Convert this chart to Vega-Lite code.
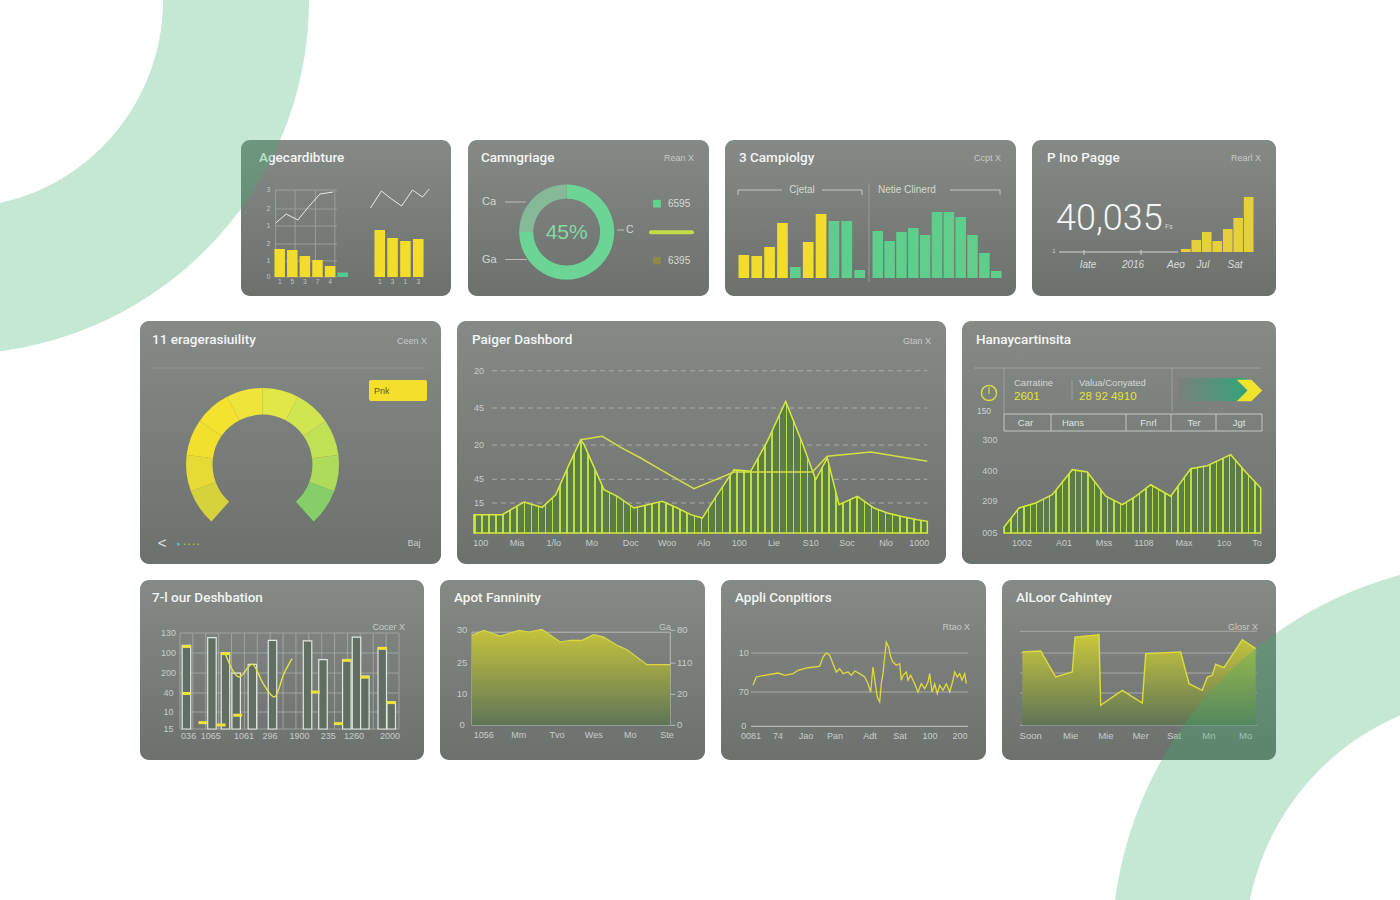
{
"$schema":"https://vega.github.io/schema/vega-lite/v6.json",
"width":1400,"height":900,"padding":0,"autosize":{"type":"none"},"background":"#ffffff",
"config":{"view":{"stroke":null},"axis":{"disable":true},"legend":{"disable":true}},
"resolve":{"scale":{"x":"independent","y":"independent","color":"independent","theta":"independent"}},
"layer":[
{"data":{"values":[{"panel":"Agecardibture"}]},"layer":[
 {"mark":{"type":"rect","cornerRadius":9,"fill":{"gradient":"linear","x1":0,"y1":0,"x2":0,"y2":1,"stops":[{"offset":0,"color":"#858a87"},{"offset":1,"color":"#6c716e"}]}},"encoding":{"x":{"datum":0,"type":"quantitative","scale":{"domain":[0,210],"range":[241,451],"nice":false,"zero":false}},"x2":{"datum":210},"y":{"datum":0,"type":"quantitative","scale":{"domain":[0,156],"range":[140,296],"nice":false,"zero":false}},"y2":{"datum":156}}},
 {"mark":{"type":"text","align":"left","baseline":"middle","font":"Roboto","fontWeight":500,"fontSize":13.5,"fill":"#f3f5f3"},"encoding":{"text":{"field":"panel"},"x":{"datum":18},"y":{"datum":17.5}}}
]},
{"layer":[
 {"data":{"values":[{"g":0,"lab":"0"},{"g":16,"lab":"1"},{"g":33,"lab":"2"},{"g":51,"lab":"1"},{"g":68,"lab":"2"},{"g":87,"lab":"3"}]},"layer":[
  {"mark":{"type":"rule","stroke":"#a2a6a3","strokeWidth":0.8},"encoding":{"x":{"datum":-0.35,"type":"quantitative","scale":{"domain":[-0.5,5.5],"range":[268.4,354],"nice":false,"zero":false}},"x2":{"datum":4.55},"y":{"field":"g","type":"quantitative","scale":{"domain":[0,100],"range":[277,177],"nice":false,"zero":false}}}},
  {"mark":{"type":"text","align":"center","baseline":"middle","font":"Liberation Sans","fontSize":7,"fill":"#c2c6c3"},"encoding":{"text":{"field":"lab"},"x":{"datum":-0.9},"y":{"field":"g","type":"quantitative"}}}
 ]},
 {"data":{"values":[{"t":-0.32},{"t":1.22},{"t":2.84},{"t":4.38}]},"mark":{"type":"rule","stroke":"#a2a6a3","strokeWidth":0.8},"encoding":{"x":{"field":"t","type":"quantitative"},"y":{"datum":0},"y2":{"datum":87}}},
 {"data":{"values":[{"t":-0.32,"v":54},{"t":0.52,"v":63},{"t":1.44,"v":57},{"t":2.28,"v":70},{"t":3.19,"v":83},{"t":4.24,"v":85}]},"mark":{"type":"line","stroke":"#e8ebe8","strokeWidth":1},"encoding":{"x":{"field":"t","type":"quantitative"},"y":{"field":"v","type":"quantitative"}}},
 {"data":{"values":[{"i":0,"v":28,"kind":"main","lab":"1"},{"i":1,"v":27,"kind":"main","lab":"5"},{"i":2,"v":21,"kind":"main","lab":"3"},{"i":3,"v":17,"kind":"main","lab":"7"},{"i":4,"v":11,"kind":"main","lab":"4"},{"i":5,"v":4.5,"kind":"extra","lab":""}]},"layer":[
  {"mark":{"type":"bar","width":10.5},"encoding":{"x":{"field":"i","type":"quantitative"},"y":{"field":"v","type":"quantitative"},"y2":{"datum":0},"color":{"field":"kind","type":"nominal","scale":{"domain":["main","extra"],"range":["#f2dd2b","#52c98f"]},"legend":null}}},
  {"mark":{"type":"text","align":"center","baseline":"middle","font":"Liberation Sans","fontSize":6.5,"fill":"#c2c6c3"},"encoding":{"text":{"field":"lab"},"x":{"field":"i","type":"quantitative"},"y":{"datum":-5}}}
 ]}
]},
{"layer":[
 {"data":{"values":[{"t":-0.72,"v":69},{"t":0.13,"v":86},{"t":0.92,"v":78},{"t":1.7,"v":71},{"t":2.55,"v":87},{"t":3.33,"v":80},{"t":3.85,"v":88}]},"mark":{"type":"line","stroke":"#e8ebe8","strokeWidth":1},"encoding":{"x":{"field":"t","type":"quantitative","scale":{"domain":[-0.5,3.5],"range":[368.3,429.7],"nice":false,"zero":false}},"y":{"field":"v","type":"quantitative","scale":{"domain":[0,100],"range":[277,177],"nice":false,"zero":false}}}},
 {"data":{"values":[{"i":0,"v":47,"lab":"1"},{"i":1,"v":39,"lab":"3"},{"i":2,"v":36,"lab":"1"},{"i":3,"v":38,"lab":"3"}]},"layer":[
  {"mark":{"type":"bar","width":10.5,"fill":"#f2dd2b"},"encoding":{"x":{"field":"i","type":"quantitative"},"y":{"field":"v","type":"quantitative"},"y2":{"datum":0}}},
  {"mark":{"type":"text","align":"center","baseline":"middle","font":"Liberation Sans","fontSize":6.5,"fill":"#c2c6c3"},"encoding":{"text":{"field":"lab"},"x":{"field":"i","type":"quantitative"},"y":{"datum":-5}}}
 ]}
]},
{"data":{"values":[{"panel":"Camngriage"}]},"layer":[
 {"mark":{"type":"rect","cornerRadius":9,"fill":{"gradient":"linear","x1":0,"y1":0,"x2":0,"y2":1,"stops":[{"offset":0,"color":"#858a87"},{"offset":1,"color":"#6c716e"}]}},"encoding":{"x":{"datum":0,"type":"quantitative","scale":{"domain":[0,241],"range":[468,709],"nice":false,"zero":false}},"x2":{"datum":241},"y":{"datum":0,"type":"quantitative","scale":{"domain":[0,156],"range":[140,296],"nice":false,"zero":false}},"y2":{"datum":156}}},
 {"mark":{"type":"text","align":"left","baseline":"middle","font":"Roboto","fontWeight":500,"fontSize":13.5,"fill":"#f3f5f3"},"encoding":{"text":{"field":"panel"},"x":{"datum":13},"y":{"datum":17.5}}},
 {"mark":{"type":"text","text":"Rean X","align":"right","baseline":"middle","font":"Liberation Sans","fontSize":9,"fill":"#c6cac7"},"encoding":{"x":{"datum":226},"y":{"datum":17.5}}},
 {"data":{"values":[{"part":"done","share":75,"idx":1},{"part":"rest","share":25,"idx":2}]},"mark":{"type":"arc","radius":47.5,"radius2":33.5},"encoding":{"theta":{"field":"share","type":"quantitative","stack":true},"order":{"field":"idx","type":"quantitative"},"color":{"field":"part","type":"nominal","scale":{"domain":["done","rest"],"range":["#6cd595","#86b997"]},"legend":null},"x":{"datum":98.7},"y":{"datum":92}}},
 {"mark":{"type":"text","text":"45%","align":"center","baseline":"middle","font":"Liberation Sans","fontSize":21,"fill":"#82daa4"},"encoding":{"x":{"datum":98.7},"y":{"datum":93}}},
 {"mark":{"type":"text","text":"Ca","align":"left","baseline":"middle","font":"Liberation Sans","fontSize":11,"fill":"#d3d6d3"},"encoding":{"x":{"datum":14},"y":{"datum":62}}},
 {"mark":{"type":"text","text":"Ga","align":"left","baseline":"middle","font":"Liberation Sans","fontSize":11,"fill":"#d3d6d3"},"encoding":{"x":{"datum":14},"y":{"datum":119.5}}},
 {"mark":{"type":"rule","stroke":"#b9bdba","strokeWidth":1},"encoding":{"x":{"datum":37},"x2":{"datum":58},"y":{"datum":62}}},
 {"mark":{"type":"rule","stroke":"#b9bdba","strokeWidth":1},"encoding":{"x":{"datum":37},"x2":{"datum":59},"y":{"datum":119.5}}},
 {"mark":{"type":"rule","stroke":"#b9bdba","strokeWidth":1},"encoding":{"x":{"datum":149},"x2":{"datum":156},"y":{"datum":90}}},
 {"mark":{"type":"text","text":"C","align":"left","baseline":"middle","font":"Liberation Sans","fontSize":10.5,"fill":"#d3d6d3"},"encoding":{"x":{"datum":158},"y":{"datum":90}}},
 {"mark":{"type":"square","size":60,"color":"#63d28f","opacity":1},"encoding":{"x":{"datum":189},"y":{"datum":63.7}}},
 {"mark":{"type":"text","text":"6595","align":"left","baseline":"middle","font":"Liberation Sans","fontSize":10,"fill":"#d7dad7"},"encoding":{"x":{"datum":200},"y":{"datum":64}}},
 {"mark":{"type":"rule","stroke":"#c3dd48","strokeWidth":4,"strokeCap":"round"},"encoding":{"x":{"datum":183},"x2":{"datum":224},"y":{"datum":92.3}}},
 {"mark":{"type":"square","size":55,"color":"#8f8b44","opacity":1},"encoding":{"x":{"datum":189},"y":{"datum":120.5}}},
 {"mark":{"type":"text","text":"6395","align":"left","baseline":"middle","font":"Liberation Sans","fontSize":10,"fill":"#d7dad7"},"encoding":{"x":{"datum":200},"y":{"datum":120.5}}}
]},
{"data":{"values":[{"panel":"3 Campiolgy"}]},"layer":[
 {"mark":{"type":"rect","cornerRadius":9,"fill":{"gradient":"linear","x1":0,"y1":0,"x2":0,"y2":1,"stops":[{"offset":0,"color":"#858a87"},{"offset":1,"color":"#6c716e"}]}},"encoding":{"x":{"datum":0,"type":"quantitative","scale":{"domain":[0,291],"range":[725,1016],"nice":false,"zero":false}},"x2":{"datum":291},"y":{"datum":0,"type":"quantitative","scale":{"domain":[0,156],"range":[140,296],"nice":false,"zero":false}},"y2":{"datum":156}}},
 {"mark":{"type":"text","align":"left","baseline":"middle","font":"Roboto","fontWeight":500,"fontSize":13.5,"fill":"#f3f5f3"},"encoding":{"text":{"field":"panel"},"x":{"datum":14},"y":{"datum":17.5}}},
 {"mark":{"type":"text","text":"Ccpt X","align":"right","baseline":"middle","font":"Liberation Sans","fontSize":9,"fill":"#c6cac7"},"encoding":{"x":{"datum":276},"y":{"datum":17.5}}},
 {"mark":{"type":"rule","stroke":"#c0c4c1","strokeWidth":1},"encoding":{"x":{"datum":13},"x2":{"datum":57},"y":{"datum":50}}},
 {"mark":{"type":"rule","stroke":"#c0c4c1","strokeWidth":1},"encoding":{"x":{"datum":97},"x2":{"datum":137},"y":{"datum":50}}},
 {"mark":{"type":"rule","stroke":"#c0c4c1","strokeWidth":1},"encoding":{"x":{"datum":13},"y":{"datum":50},"y2":{"datum":55}}},
 {"mark":{"type":"rule","stroke":"#c0c4c1","strokeWidth":1},"encoding":{"x":{"datum":137},"y":{"datum":50},"y2":{"datum":55}}},
 {"mark":{"type":"rule","stroke":"#c0c4c1","strokeWidth":1},"encoding":{"x":{"datum":225},"x2":{"datum":275},"y":{"datum":50}}},
 {"mark":{"type":"rule","stroke":"#c0c4c1","strokeWidth":1},"encoding":{"x":{"datum":275},"y":{"datum":50},"y2":{"datum":55}}},
 {"mark":{"type":"rule","stroke":"#979b98","strokeWidth":1},"encoding":{"x":{"datum":144},"y":{"datum":43},"y2":{"datum":142}}},
 {"mark":{"type":"text","text":"Cjetal","align":"center","baseline":"middle","font":"Liberation Sans","fontSize":10,"fill":"#d5d8d5"},"encoding":{"x":{"datum":77},"y":{"datum":50}}},
 {"mark":{"type":"text","text":"Netie Clinerd","align":"left","baseline":"middle","font":"Liberation Sans","fontSize":10,"fill":"#d5d8d5"},"encoding":{"x":{"datum":153},"y":{"datum":50}}}
]},
{"data":{"values":[{"b":"L01","v":23,"grp":"a"},{"b":"L02","v":22,"grp":"a"},{"b":"L03","v":31,"grp":"a"},{"b":"L04","v":55,"grp":"a"},{"b":"L05","v":11,"grp":"b"},{"b":"L06","v":36,"grp":"a"},{"b":"L07","v":64,"grp":"a"},{"b":"L08","v":57,"grp":"b"},{"b":"L09","v":57,"grp":"b"},{"b":"L10","v":8,"grp":"b"}]},
 "mark":{"type":"bar"},
 "encoding":{"x":{"field":"b","type":"nominal","scale":{"type":"band","range":[738.5,865],"paddingInner":0.17,"paddingOuter":0}},"y":{"field":"v","type":"quantitative","scale":{"domain":[0,100],"range":[278,178],"nice":false,"zero":false}},"y2":{"datum":0},"color":{"field":"grp","type":"nominal","scale":{"domain":["a","b"],"range":["#f2dc2c","#5fcd8c"]},"legend":null}}},
{"data":{"values":[{"b":"R01","v":47},{"b":"R02","v":37},{"b":"R03","v":46},{"b":"R04","v":50},{"b":"R05","v":43},{"b":"R06","v":66},{"b":"R07","v":66},{"b":"R08","v":61},{"b":"R09","v":43},{"b":"R10","v":25},{"b":"R11","v":7}]},
 "mark":{"type":"bar","fill":"#5fcd8c"},
 "encoding":{"x":{"field":"b","type":"nominal","scale":{"type":"band","range":[872.5,1001.5],"paddingInner":0.11,"paddingOuter":0}},"y":{"field":"v","type":"quantitative","scale":{"domain":[0,100],"range":[278,178],"nice":false,"zero":false}},"y2":{"datum":0}}},
{"data":{"values":[{"panel":"P Ino Pagge"}]},"layer":[
 {"mark":{"type":"rect","cornerRadius":9,"fill":{"gradient":"linear","x1":0,"y1":0,"x2":0,"y2":1,"stops":[{"offset":0,"color":"#858a87"},{"offset":1,"color":"#6c716e"}]}},"encoding":{"x":{"datum":0,"type":"quantitative","scale":{"domain":[0,244],"range":[1032,1276],"nice":false,"zero":false}},"x2":{"datum":244},"y":{"datum":0,"type":"quantitative","scale":{"domain":[0,156],"range":[140,296],"nice":false,"zero":false}},"y2":{"datum":156}}},
 {"mark":{"type":"text","align":"left","baseline":"middle","font":"Roboto","fontWeight":500,"fontSize":13.5,"fill":"#f3f5f3"},"encoding":{"text":{"field":"panel"},"x":{"datum":15},"y":{"datum":17.5}}},
 {"mark":{"type":"text","text":"Rearl X","align":"right","baseline":"middle","font":"Liberation Sans","fontSize":9,"fill":"#c6cac7"},"encoding":{"x":{"datum":229},"y":{"datum":17.5}}},
 {"mark":{"type":"text","text":"40,035","align":"left","baseline":"middle","font":"Roboto","fontWeight":300,"fontSize":36,"fill":"#f4f5f4"},"encoding":{"x":{"datum":24},"y":{"datum":79}}},
 {"mark":{"type":"text","text":"Fs","align":"left","baseline":"middle","font":"Liberation Sans","fontSize":7,"fill":"#d0d3d0"},"encoding":{"x":{"datum":133},"y":{"datum":87}}},
 {"mark":{"type":"rule","stroke":"#d2d5d2","strokeWidth":1},"encoding":{"x":{"datum":27},"x2":{"datum":146},"y":{"datum":112}}},
 {"mark":{"type":"rule","stroke":"#d2d5d2","strokeWidth":1},"encoding":{"x":{"datum":52},"y":{"datum":110},"y2":{"datum":115}}},
 {"mark":{"type":"rule","stroke":"#d2d5d2","strokeWidth":1},"encoding":{"x":{"datum":109},"y":{"datum":110},"y2":{"datum":115}}},
 {"mark":{"type":"text","text":"1","align":"center","baseline":"middle","font":"Liberation Sans","fontSize":6,"fill":"#d0d3d0"},"encoding":{"x":{"datum":22},"y":{"datum":111}}},
 {"mark":{"type":"text","text":"Iate","align":"center","baseline":"middle","font":"Liberation Sans","fontStyle":"italic","fontSize":10,"fill":"#d9dcd9"},"encoding":{"x":{"datum":56},"y":{"datum":125}}},
 {"mark":{"type":"text","text":"2016","align":"center","baseline":"middle","font":"Liberation Sans","fontStyle":"italic","fontSize":10,"fill":"#d9dcd9"},"encoding":{"x":{"datum":101},"y":{"datum":125}}},
 {"mark":{"type":"text","text":"Aeo","align":"center","baseline":"middle","font":"Liberation Sans","fontStyle":"italic","fontSize":10,"fill":"#d9dcd9"},"encoding":{"x":{"datum":144},"y":{"datum":125}}},
 {"mark":{"type":"text","text":"Jul","align":"center","baseline":"middle","font":"Liberation Sans","fontStyle":"italic","fontSize":10,"fill":"#d9dcd9"},"encoding":{"x":{"datum":171},"y":{"datum":125}}},
 {"mark":{"type":"text","text":"Sat","align":"center","baseline":"middle","font":"Liberation Sans","fontStyle":"italic","fontSize":10,"fill":"#d9dcd9"},"encoding":{"x":{"datum":203},"y":{"datum":125}}}
]},
{"data":{"values":[{"b":"m1","v":3},{"b":"m2","v":12},{"b":"m3","v":20},{"b":"m4","v":11},{"b":"m5","v":23},{"b":"m6","v":34},{"b":"m7","v":55}]},
 "mark":{"type":"bar","fill":"#e5cf3a"},
 "encoding":{"x":{"field":"b","type":"nominal","scale":{"type":"band","range":[1181,1253.5],"paddingInner":0.08,"paddingOuter":0}},"y":{"field":"v","type":"quantitative","scale":{"domain":[0,100],"range":[252,152],"nice":false,"zero":false}},"y2":{"datum":0}}},
{"data":{"values":[{"panel":"11 eragerasiuility"}]},"layer":[
 {"mark":{"type":"rect","cornerRadius":9,"fill":{"gradient":"linear","x1":0,"y1":0,"x2":0,"y2":1,"stops":[{"offset":0,"color":"#858a87"},{"offset":1,"color":"#6c716e"}]}},"encoding":{"x":{"datum":0,"type":"quantitative","scale":{"domain":[0,301],"range":[140,441],"nice":false,"zero":false}},"x2":{"datum":301},"y":{"datum":0,"type":"quantitative","scale":{"domain":[0,243],"range":[321,564],"nice":false,"zero":false}},"y2":{"datum":243}}},
 {"mark":{"type":"text","align":"left","baseline":"middle","font":"Roboto","fontWeight":500,"fontSize":13.5,"fill":"#f3f5f3"},"encoding":{"text":{"field":"panel"},"x":{"datum":12},"y":{"datum":19}}},
 {"mark":{"type":"text","text":"Ceen X","align":"right","baseline":"middle","font":"Liberation Sans","fontSize":9,"fill":"#c6cac7"},"encoding":{"x":{"datum":287},"y":{"datum":20}}},
 {"mark":{"type":"rule","stroke":"#8f9390","strokeWidth":1},"encoding":{"x":{"datum":12},"x2":{"datum":286},"y":{"datum":47}}},
 {"mark":{"type":"rect","fill":"#f4df2c","cornerRadius":2},"encoding":{"x":{"datum":229},"x2":{"datum":287},"y":{"datum":59},"y2":{"datum":80}}},
 {"mark":{"type":"text","text":"Pnk","align":"left","baseline":"middle","font":"Liberation Sans","fontSize":9,"fill":"#5b5a2e"},"encoding":{"x":{"datum":234},"y":{"datum":70}}},
 {"data":{"values":[{"seg":"g01","share":1,"idx":1},{"seg":"g02","share":1,"idx":2},{"seg":"g03","share":1,"idx":3},{"seg":"g04","share":1,"idx":4},{"seg":"g05","share":1,"idx":5},{"seg":"g06","share":1,"idx":6},{"seg":"g07","share":1,"idx":7},{"seg":"g08","share":1,"idx":8},{"seg":"g09","share":1,"idx":9},{"seg":"g10","share":1,"idx":10}]},
  "mark":{"type":"arc","radius":76.5,"radius2":50},
  "encoding":{"theta":{"field":"share","type":"quantitative","stack":true,"scale":{"range":[-2.41,2.41]}},"order":{"field":"idx","type":"quantitative"},"color":{"field":"seg","type":"nominal","scale":{"domain":["g01","g02","g03","g04","g05","g06","g07","g08","g09","g10"],"range":["#d6d23c","#e6db34","#f3df2d","#f5e22f","#efe43a","#e1e746","#d0e54f","#c0e156","#afdb5b","#86cf68"]},"legend":null},"x":{"datum":122.5},"y":{"datum":143.5}}},
 {"mark":{"type":"text","text":"<","align":"center","baseline":"middle","font":"Liberation Sans","fontSize":15,"fill":"#e2e5e2"},"encoding":{"x":{"datum":22},"y":{"datum":222}}},
 {"mark":{"type":"text","text":"▸","align":"center","baseline":"middle","font":"DejaVu Sans","fontSize":7,"fill":"#67b9c4"},"encoding":{"x":{"datum":39},"y":{"datum":223}}},
 {"mark":{"type":"text","text":"• • • •","align":"left","baseline":"middle","font":"DejaVu Sans","fontSize":5,"fill":"#cfd84a"},"encoding":{"x":{"datum":43},"y":{"datum":223}}},
 {"mark":{"type":"text","text":"Baj","align":"center","baseline":"middle","font":"Liberation Sans","fontSize":9,"fill":"#c9ccc9"},"encoding":{"x":{"datum":274},"y":{"datum":222}}}
]},
{"data":{"values":[{"panel":"Paiger Dashbord"}]},"layer":[
 {"mark":{"type":"rect","cornerRadius":9,"fill":{"gradient":"linear","x1":0,"y1":0,"x2":0,"y2":1,"stops":[{"offset":0,"color":"#858a87"},{"offset":1,"color":"#6c716e"}]}},"encoding":{"x":{"datum":0,"type":"quantitative","scale":{"domain":[0,489],"range":[457,946],"nice":false,"zero":false}},"x2":{"datum":489},"y":{"datum":0,"type":"quantitative","scale":{"domain":[0,243],"range":[321,564],"nice":false,"zero":false}},"y2":{"datum":243}}},
 {"mark":{"type":"text","align":"left","baseline":"middle","font":"Roboto","fontWeight":500,"fontSize":13.5,"fill":"#f3f5f3"},"encoding":{"text":{"field":"panel"},"x":{"datum":15},"y":{"datum":19}}},
 {"mark":{"type":"text","text":"Gtan X","align":"right","baseline":"middle","font":"Liberation Sans","fontSize":9,"fill":"#c6cac7"},"encoding":{"x":{"datum":474},"y":{"datum":20}}}
]},
{"layer":[
 {"data":{"values":[{"g":18.5,"lab":"15"},{"g":33.1,"lab":"45"},{"g":54.2,"lab":"20"},{"g":77,"lab":"45"},{"g":100,"lab":"20"}]},"layer":[
  {"mark":{"type":"rule","stroke":"#a9ada9","strokeWidth":1,"strokeDash":[5,4]},"encoding":{"x":{"datum":3.97,"type":"quantitative","scale":{"domain":[0,100],"range":[474,927.3],"nice":false,"zero":false}},"x2":{"datum":100},"y":{"field":"g","type":"quantitative","scale":{"domain":[0,100],"range":[533,370.7],"nice":false,"zero":false}}}},
  {"mark":{"type":"text","align":"center","baseline":"middle","font":"Liberation Sans","fontSize":9,"fill":"#c8ccc8"},"encoding":{"text":{"field":"lab"},"x":{"datum":1.1},"y":{"field":"g","type":"quantitative"}}}
 ]},
 {"data":{"values":[{"t":0,"v":11.3},{"t":6.24,"v":11.3},{"t":11.03,"v":19.1},{"t":15.07,"v":15.8},{"t":18.02,"v":23.6},{"t":20.96,"v":42.1},{"t":23.54,"v":57.5},{"t":24.27,"v":54.4},{"t":28.68,"v":26.7},{"t":31.61,"v":22.6},{"t":35.3,"v":15.4},{"t":38.98,"v":17.9},{"t":41.54,"v":19.5},{"t":44.85,"v":15.4},{"t":47.81,"v":11.3},{"t":50.36,"v":9.2},{"t":53.67,"v":23.6},{"t":57.36,"v":39},{"t":61.04,"v":38},{"t":64.7,"v":56.5},{"t":68.76,"v":81.1},{"t":72.42,"v":55.5},{"t":75.38,"v":32.8},{"t":77.94,"v":46.2},{"t":80.52,"v":17.4},{"t":84.56,"v":22.6},{"t":88.24,"v":15.4},{"t":91.18,"v":12.3},{"t":94.13,"v":10.3},{"t":97.79,"v":8.2},{"t":100,"v":7.2}]},
  "mark":{"type":"area","stroke":"#d6ea3c","strokeWidth":1.5,"fill":{"gradient":"linear","x1":0,"y1":0,"x2":1,"y2":0,"stops":[
{"offset":0,"color":"#c2db4b"},{"offset":0.0035,"color":"#c2db4b"},{"offset":0.0035,"color":"#5a7e46"},{"offset":0.015625,"color":"#5a7e46"},
{"offset":0.015625,"color":"#c2db4b"},{"offset":0.019125,"color":"#c2db4b"},{"offset":0.019125,"color":"#5a7e46"},{"offset":0.03125,"color":"#5a7e46"},
{"offset":0.03125,"color":"#c2db4b"},{"offset":0.03475,"color":"#c2db4b"},{"offset":0.03475,"color":"#5a7e46"},{"offset":0.046875,"color":"#5a7e46"},
{"offset":0.046875,"color":"#c2db4b"},{"offset":0.050375,"color":"#c2db4b"},{"offset":0.050375,"color":"#5a7e46"},{"offset":0.0625,"color":"#5a7e46"},
{"offset":0.0625,"color":"#c2db4b"},{"offset":0.066,"color":"#c2db4b"},{"offset":0.066,"color":"#5a7e46"},{"offset":0.078125,"color":"#5a7e46"},
{"offset":0.078125,"color":"#c2db4b"},{"offset":0.081625,"color":"#c2db4b"},{"offset":0.081625,"color":"#5a7e46"},{"offset":0.09375,"color":"#5a7e46"},
{"offset":0.09375,"color":"#c2db4b"},{"offset":0.09725,"color":"#c2db4b"},{"offset":0.09725,"color":"#5a7e46"},{"offset":0.109375,"color":"#5a7e46"},
{"offset":0.109375,"color":"#c2db4b"},{"offset":0.112875,"color":"#c2db4b"},{"offset":0.112875,"color":"#5a7e46"},{"offset":0.125,"color":"#5a7e46"},
{"offset":0.125,"color":"#c2db4b"},{"offset":0.1285,"color":"#c2db4b"},{"offset":0.1285,"color":"#5a7e46"},{"offset":0.140625,"color":"#5a7e46"},
{"offset":0.140625,"color":"#c2db4b"},{"offset":0.144125,"color":"#c2db4b"},{"offset":0.144125,"color":"#5a7e46"},{"offset":0.15625,"color":"#5a7e46"},
{"offset":0.15625,"color":"#c2db4b"},{"offset":0.15975,"color":"#c2db4b"},{"offset":0.15975,"color":"#5a7e46"},{"offset":0.171875,"color":"#5a7e46"},
{"offset":0.171875,"color":"#c2db4b"},{"offset":0.175375,"color":"#c2db4b"},{"offset":0.175375,"color":"#5a7e46"},{"offset":0.1875,"color":"#5a7e46"},
{"offset":0.1875,"color":"#c2db4b"},{"offset":0.191,"color":"#c2db4b"},{"offset":0.191,"color":"#5a7e46"},{"offset":0.203125,"color":"#5a7e46"},
{"offset":0.203125,"color":"#c2db4b"},{"offset":0.206625,"color":"#c2db4b"},{"offset":0.206625,"color":"#5a7e46"},{"offset":0.21875,"color":"#5a7e46"},
{"offset":0.21875,"color":"#c2db4b"},{"offset":0.22225,"color":"#c2db4b"},{"offset":0.22225,"color":"#5a7e46"},{"offset":0.234375,"color":"#5a7e46"},
{"offset":0.234375,"color":"#c2db4b"},{"offset":0.237875,"color":"#c2db4b"},{"offset":0.237875,"color":"#5a7e46"},{"offset":0.25,"color":"#5a7e46"},
{"offset":0.25,"color":"#c2db4b"},{"offset":0.2535,"color":"#c2db4b"},{"offset":0.2535,"color":"#5a7e46"},{"offset":0.265625,"color":"#5a7e46"},
{"offset":0.265625,"color":"#c2db4b"},{"offset":0.269125,"color":"#c2db4b"},{"offset":0.269125,"color":"#5a7e46"},{"offset":0.28125,"color":"#5a7e46"},
{"offset":0.28125,"color":"#c2db4b"},{"offset":0.28475,"color":"#c2db4b"},{"offset":0.28475,"color":"#5a7e46"},{"offset":0.296875,"color":"#5a7e46"},
{"offset":0.296875,"color":"#c2db4b"},{"offset":0.300375,"color":"#c2db4b"},{"offset":0.300375,"color":"#5a7e46"},{"offset":0.3125,"color":"#5a7e46"},
{"offset":0.3125,"color":"#c2db4b"},{"offset":0.316,"color":"#c2db4b"},{"offset":0.316,"color":"#5a7e46"},{"offset":0.328125,"color":"#5a7e46"},
{"offset":0.328125,"color":"#c2db4b"},{"offset":0.331625,"color":"#c2db4b"},{"offset":0.331625,"color":"#5a7e46"},{"offset":0.34375,"color":"#5a7e46"},
{"offset":0.34375,"color":"#c2db4b"},{"offset":0.34725,"color":"#c2db4b"},{"offset":0.34725,"color":"#5a7e46"},{"offset":0.359375,"color":"#5a7e46"},
{"offset":0.359375,"color":"#c2db4b"},{"offset":0.362875,"color":"#c2db4b"},{"offset":0.362875,"color":"#5a7e46"},{"offset":0.375,"color":"#5a7e46"},
{"offset":0.375,"color":"#c2db4b"},{"offset":0.3785,"color":"#c2db4b"},{"offset":0.3785,"color":"#5a7e46"},{"offset":0.390625,"color":"#5a7e46"},
{"offset":0.390625,"color":"#c2db4b"},{"offset":0.394125,"color":"#c2db4b"},{"offset":0.394125,"color":"#5a7e46"},{"offset":0.40625,"color":"#5a7e46"},
{"offset":0.40625,"color":"#c2db4b"},{"offset":0.40975,"color":"#c2db4b"},{"offset":0.40975,"color":"#5a7e46"},{"offset":0.421875,"color":"#5a7e46"},
{"offset":0.421875,"color":"#c2db4b"},{"offset":0.425375,"color":"#c2db4b"},{"offset":0.425375,"color":"#5a7e46"},{"offset":0.4375,"color":"#5a7e46"},
{"offset":0.4375,"color":"#c2db4b"},{"offset":0.441,"color":"#c2db4b"},{"offset":0.441,"color":"#5a7e46"},{"offset":0.453125,"color":"#5a7e46"},
{"offset":0.453125,"color":"#c2db4b"},{"offset":0.456625,"color":"#c2db4b"},{"offset":0.456625,"color":"#5a7e46"},{"offset":0.46875,"color":"#5a7e46"},
{"offset":0.46875,"color":"#c2db4b"},{"offset":0.47225,"color":"#c2db4b"},{"offset":0.47225,"color":"#5a7e46"},{"offset":0.484375,"color":"#5a7e46"},
{"offset":0.484375,"color":"#c2db4b"},{"offset":0.487875,"color":"#c2db4b"},{"offset":0.487875,"color":"#5a7e46"},{"offset":0.5,"color":"#5a7e46"},
{"offset":0.5,"color":"#c2db4b"},{"offset":0.5035,"color":"#c2db4b"},{"offset":0.5035,"color":"#5a7e46"},{"offset":0.515625,"color":"#5a7e46"},
{"offset":0.515625,"color":"#c2db4b"},{"offset":0.519125,"color":"#c2db4b"},{"offset":0.519125,"color":"#5a7e46"},{"offset":0.53125,"color":"#5a7e46"},
{"offset":0.53125,"color":"#c2db4b"},{"offset":0.53475,"color":"#c2db4b"},{"offset":0.53475,"color":"#5a7e46"},{"offset":0.546875,"color":"#5a7e46"},
{"offset":0.546875,"color":"#c2db4b"},{"offset":0.550375,"color":"#c2db4b"},{"offset":0.550375,"color":"#5a7e46"},{"offset":0.5625,"color":"#5a7e46"},
{"offset":0.5625,"color":"#c2db4b"},{"offset":0.566,"color":"#c2db4b"},{"offset":0.566,"color":"#5a7e46"},{"offset":0.578125,"color":"#5a7e46"},
{"offset":0.578125,"color":"#c2db4b"},{"offset":0.581625,"color":"#c2db4b"},{"offset":0.581625,"color":"#5a7e46"},{"offset":0.59375,"color":"#5a7e46"},
{"offset":0.59375,"color":"#c2db4b"},{"offset":0.59725,"color":"#c2db4b"},{"offset":0.59725,"color":"#5a7e46"},{"offset":0.609375,"color":"#5a7e46"},
{"offset":0.609375,"color":"#c2db4b"},{"offset":0.612875,"color":"#c2db4b"},{"offset":0.612875,"color":"#5a7e46"},{"offset":0.625,"color":"#5a7e46"},
{"offset":0.625,"color":"#c2db4b"},{"offset":0.6285,"color":"#c2db4b"},{"offset":0.6285,"color":"#5a7e46"},{"offset":0.640625,"color":"#5a7e46"},
{"offset":0.640625,"color":"#c2db4b"},{"offset":0.644125,"color":"#c2db4b"},{"offset":0.644125,"color":"#5a7e46"},{"offset":0.65625,"color":"#5a7e46"},
{"offset":0.65625,"color":"#c2db4b"},{"offset":0.65975,"color":"#c2db4b"},{"offset":0.65975,"color":"#5a7e46"},{"offset":0.671875,"color":"#5a7e46"},
{"offset":0.671875,"color":"#c2db4b"},{"offset":0.675375,"color":"#c2db4b"},{"offset":0.675375,"color":"#5a7e46"},{"offset":0.6875,"color":"#5a7e46"},
{"offset":0.6875,"color":"#c2db4b"},{"offset":0.691,"color":"#c2db4b"},{"offset":0.691,"color":"#5a7e46"},{"offset":0.703125,"color":"#5a7e46"},
{"offset":0.703125,"color":"#c2db4b"},{"offset":0.706625,"color":"#c2db4b"},{"offset":0.706625,"color":"#5a7e46"},{"offset":0.71875,"color":"#5a7e46"},
{"offset":0.71875,"color":"#c2db4b"},{"offset":0.72225,"color":"#c2db4b"},{"offset":0.72225,"color":"#5a7e46"},{"offset":0.734375,"color":"#5a7e46"},
{"offset":0.734375,"color":"#c2db4b"},{"offset":0.737875,"color":"#c2db4b"},{"offset":0.737875,"color":"#5a7e46"},{"offset":0.75,"color":"#5a7e46"},
{"offset":0.75,"color":"#c2db4b"},{"offset":0.7535,"color":"#c2db4b"},{"offset":0.7535,"color":"#5a7e46"},{"offset":0.765625,"color":"#5a7e46"},
{"offset":0.765625,"color":"#c2db4b"},{"offset":0.769125,"color":"#c2db4b"},{"offset":0.769125,"color":"#5a7e46"},{"offset":0.78125,"color":"#5a7e46"},
{"offset":0.78125,"color":"#c2db4b"},{"offset":0.78475,"color":"#c2db4b"},{"offset":0.78475,"color":"#5a7e46"},{"offset":0.796875,"color":"#5a7e46"},
{"offset":0.796875,"color":"#c2db4b"},{"offset":0.800375,"color":"#c2db4b"},{"offset":0.800375,"color":"#5a7e46"},{"offset":0.8125,"color":"#5a7e46"},
{"offset":0.8125,"color":"#c2db4b"},{"offset":0.816,"color":"#c2db4b"},{"offset":0.816,"color":"#5a7e46"},{"offset":0.828125,"color":"#5a7e46"},
{"offset":0.828125,"color":"#c2db4b"},{"offset":0.831625,"color":"#c2db4b"},{"offset":0.831625,"color":"#5a7e46"},{"offset":0.84375,"color":"#5a7e46"},
{"offset":0.84375,"color":"#c2db4b"},{"offset":0.84725,"color":"#c2db4b"},{"offset":0.84725,"color":"#5a7e46"},{"offset":0.859375,"color":"#5a7e46"},
{"offset":0.859375,"color":"#c2db4b"},{"offset":0.862875,"color":"#c2db4b"},{"offset":0.862875,"color":"#5a7e46"},{"offset":0.875,"color":"#5a7e46"},
{"offset":0.875,"color":"#c2db4b"},{"offset":0.8785,"color":"#c2db4b"},{"offset":0.8785,"color":"#5a7e46"},{"offset":0.890625,"color":"#5a7e46"},
{"offset":0.890625,"color":"#c2db4b"},{"offset":0.894125,"color":"#c2db4b"},{"offset":0.894125,"color":"#5a7e46"},{"offset":0.90625,"color":"#5a7e46"},
{"offset":0.90625,"color":"#c2db4b"},{"offset":0.90975,"color":"#c2db4b"},{"offset":0.90975,"color":"#5a7e46"},{"offset":0.921875,"color":"#5a7e46"},
{"offset":0.921875,"color":"#c2db4b"},{"offset":0.925375,"color":"#c2db4b"},{"offset":0.925375,"color":"#5a7e46"},{"offset":0.9375,"color":"#5a7e46"},
{"offset":0.9375,"color":"#c2db4b"},{"offset":0.941,"color":"#c2db4b"},{"offset":0.941,"color":"#5a7e46"},{"offset":0.953125,"color":"#5a7e46"},
{"offset":0.953125,"color":"#c2db4b"},{"offset":0.956625,"color":"#c2db4b"},{"offset":0.956625,"color":"#5a7e46"},{"offset":0.96875,"color":"#5a7e46"},
{"offset":0.96875,"color":"#c2db4b"},{"offset":0.97225,"color":"#c2db4b"},{"offset":0.97225,"color":"#5a7e46"},{"offset":0.984375,"color":"#5a7e46"},
{"offset":0.984375,"color":"#c2db4b"},{"offset":0.987875,"color":"#c2db4b"},{"offset":0.987875,"color":"#5a7e46"},{"offset":1,"color":"#5a7e46"}
]}},
  "encoding":{"x":{"field":"t","type":"quantitative"},"y":{"field":"v","type":"quantitative"},"y2":{"datum":0}}},
 {"data":{"values":[{"t":23.54,"v":57.5},{"t":28.3,"v":59.6},{"t":32.36,"v":52.8},{"t":36.77,"v":46.2},{"t":41.54,"v":38.4},{"t":48.53,"v":27.3},{"t":57.36,"v":37.6},{"t":61.77,"v":37.6},{"t":74.63,"v":37.6},{"t":77.94,"v":47.3},{"t":87.51,"v":49.9},{"t":100,"v":44.2}]},"mark":{"type":"line","stroke":"#d3df45","strokeWidth":1.5},"encoding":{"x":{"field":"t","type":"quantitative"},"y":{"field":"v","type":"quantitative"}}},
 {"data":{"values":[{"t":1.5,"lab":"100"},{"t":9.5,"lab":"Mia"},{"t":17.6,"lab":"1/lo"},{"t":26,"lab":"Mo"},{"t":34.6,"lab":"Doc"},{"t":42.6,"lab":"Woo"},{"t":50.7,"lab":"Alo"},{"t":58.5,"lab":"100"},{"t":66.2,"lab":"Lie"},{"t":74.3,"lab":"S10"},{"t":82.3,"lab":"Soc"},{"t":90.9,"lab":"Nlo"},{"t":98.2,"lab":"1000"}]},"mark":{"type":"text","align":"center","baseline":"middle","font":"Liberation Sans","fontSize":9,"fill":"#c8ccc8"},"encoding":{"text":{"field":"lab"},"x":{"field":"t","type":"quantitative"},"y":{"datum":-6.2}}}
]},
{"data":{"values":[{"panel":"Hanaycartinsita"}]},"layer":[
 {"mark":{"type":"rect","cornerRadius":9,"fill":{"gradient":"linear","x1":0,"y1":0,"x2":0,"y2":1,"stops":[{"offset":0,"color":"#858a87"},{"offset":1,"color":"#6c716e"}]}},"encoding":{"x":{"datum":0,"type":"quantitative","scale":{"domain":[0,314],"range":[962,1276],"nice":false,"zero":false}},"x2":{"datum":314},"y":{"datum":0,"type":"quantitative","scale":{"domain":[0,243],"range":[321,564],"nice":false,"zero":false}},"y2":{"datum":243}}},
 {"mark":{"type":"text","align":"left","baseline":"middle","font":"Roboto","fontWeight":500,"fontSize":13.5,"fill":"#f3f5f3"},"encoding":{"text":{"field":"panel"},"x":{"datum":14},"y":{"datum":19}}},
 {"mark":{"type":"rule","stroke":"#9ca09d","strokeWidth":1},"encoding":{"x":{"datum":12},"x2":{"datum":299},"y":{"datum":47}}},
 {"mark":{"type":"rule","stroke":"#9ca09d","strokeWidth":1},"encoding":{"x":{"datum":42},"y":{"datum":47},"y2":{"datum":93}}},
 {"mark":{"type":"rule","stroke":"#9ca09d","strokeWidth":1},"encoding":{"x":{"datum":210},"y":{"datum":47},"y2":{"datum":90}}},
 {"mark":{"type":"rule","stroke":"#9ca09d","strokeWidth":1},"encoding":{"x":{"datum":110},"y":{"datum":59},"y2":{"datum":79}}},
 {"mark":{"type":"text","text":"Carratine","align":"left","baseline":"middle","font":"Liberation Sans","fontSize":9.5,"fill":"#d3d6d3"},"encoding":{"x":{"datum":52},"y":{"datum":62}}},
 {"mark":{"type":"text","text":"2601","align":"left","baseline":"middle","font":"Liberation Sans","fontSize":11.5,"fill":"#e6e23a"},"encoding":{"x":{"datum":52},"y":{"datum":76}}},
 {"mark":{"type":"text","text":"Valua/Conyated","align":"left","baseline":"middle","font":"Liberation Sans","fontSize":9.5,"fill":"#d3d6d3"},"encoding":{"x":{"datum":117},"y":{"datum":62}}},
 {"mark":{"type":"text","text":"28 92 4910","align":"left","baseline":"middle","font":"Liberation Sans","fontSize":11.5,"fill":"#e6e23a"},"encoding":{"x":{"datum":117},"y":{"datum":76}}},
 {"mark":{"type":"point","shape":"circle","size":230,"filled":false,"stroke":"#cfdc3c","strokeWidth":1.5,"opacity":1},"encoding":{"x":{"datum":27},"y":{"datum":72}}},
 {"mark":{"type":"rule","stroke":"#cfdc3c","strokeWidth":1.2},"encoding":{"x":{"datum":27},"y":{"datum":66},"y2":{"datum":73}}},
 {"mark":{"type":"text","text":"150","align":"center","baseline":"middle","font":"Liberation Sans","fontSize":8.5,"fill":"#cbcfcc"},"encoding":{"x":{"datum":22},"y":{"datum":90}}},
 {"mark":{"type":"rect","fill":{"gradient":"linear","x1":0,"y1":0,"x2":1,"y2":0,"stops":[{"offset":0,"color":"#7a807c"},{"offset":1,"color":"#34a479"}]}},"encoding":{"x":{"datum":217},"x2":{"datum":284},"y":{"datum":57},"y2":{"datum":80}}},
 {"mark":{"type":"point","shape":"M -1 -0.85 L 0.15 -0.85 L 1 0 L 0.15 0.85 L -1 0.85 L -0.15 0 Z","size":650,"filled":true,"fill":"#efe42b","opacity":1},"encoding":{"x":{"datum":287.5},"y":{"datum":69.5}}},
 {"mark":{"type":"rect","fillOpacity":0,"stroke":"#c3c7c4","strokeWidth":1},"encoding":{"x":{"datum":42},"x2":{"datum":300},"y":{"datum":93},"y2":{"datum":110}}},
 {"mark":{"type":"rule","stroke":"#c3c7c4","strokeWidth":1},"encoding":{"x":{"datum":89},"y":{"datum":93},"y2":{"datum":110}}},
 {"mark":{"type":"rule","stroke":"#c3c7c4","strokeWidth":1},"encoding":{"x":{"datum":164},"y":{"datum":93},"y2":{"datum":110}}},
 {"mark":{"type":"rule","stroke":"#c3c7c4","strokeWidth":1},"encoding":{"x":{"datum":209},"y":{"datum":93},"y2":{"datum":110}}},
 {"mark":{"type":"rule","stroke":"#c3c7c4","strokeWidth":1},"encoding":{"x":{"datum":254},"y":{"datum":93},"y2":{"datum":110}}},
 {"mark":{"type":"text","text":"Car","align":"center","baseline":"middle","font":"Liberation Sans","fontSize":9.5,"fill":"#dfe2df"},"encoding":{"x":{"datum":63.5},"y":{"datum":102}}},
 {"mark":{"type":"text","text":"Hans","align":"center","baseline":"middle","font":"Liberation Sans","fontSize":9.5,"fill":"#dfe2df"},"encoding":{"x":{"datum":111},"y":{"datum":102}}},
 {"mark":{"type":"text","text":"Fnrl","align":"center","baseline":"middle","font":"Liberation Sans","fontSize":9.5,"fill":"#dfe2df"},"encoding":{"x":{"datum":186.5},"y":{"datum":102}}},
 {"mark":{"type":"text","text":"Ter","align":"center","baseline":"middle","font":"Liberation Sans","fontSize":9.5,"fill":"#dfe2df"},"encoding":{"x":{"datum":232},"y":{"datum":102}}},
 {"mark":{"type":"text","text":"Jgt","align":"center","baseline":"middle","font":"Liberation Sans","fontSize":9.5,"fill":"#dfe2df"},"encoding":{"x":{"datum":277},"y":{"datum":102}}}
]},
{"layer":[
 {"data":{"values":[{"g":0,"lab":"005"},{"g":34.4,"lab":"209"},{"g":67,"lab":"400"},{"g":100,"lab":"300"}]},"mark":{"type":"text","align":"center","baseline":"middle","font":"Liberation Sans","fontSize":9,"fill":"#c8ccc8"},"encoding":{"text":{"field":"lab"},"x":{"datum":-5.5,"type":"quantitative","scale":{"domain":[0,100],"range":[1004,1260.7],"nice":false,"zero":false}},"y":{"field":"g","type":"quantitative","scale":{"domain":[0,100],"range":[533,440],"nice":false,"zero":false}}}},
 {"data":{"values":[{"t":0,"v":6.1},{"t":5.84,"v":26.9},{"t":12.35,"v":32.3},{"t":18.82,"v":41.2},{"t":26.61,"v":68.1},{"t":32.45,"v":65.6},{"t":39.62,"v":39.5},{"t":46.08,"v":30.4},{"t":51.3,"v":39.5},{"t":57.15,"v":51.9},{"t":64.94,"v":39.5},{"t":72.73,"v":69.1},{"t":79.2,"v":72.4},{"t":88.31,"v":84.2},{"t":94.16,"v":65.6},{"t":100,"v":48.4}]},
  "mark":{"type":"area","stroke":"#d6ea3c","strokeWidth":1.5,"fill":{"gradient":"linear","x1":0,"y1":0,"x2":1,"y2":0,"stops":[
{"offset":0,"color":"#c2db4b"},{"offset":0.0055,"color":"#c2db4b"},{"offset":0.0055,"color":"#5a7e46"},{"offset":0.025,"color":"#5a7e46"},
{"offset":0.025,"color":"#c2db4b"},{"offset":0.0305,"color":"#c2db4b"},{"offset":0.0305,"color":"#5a7e46"},{"offset":0.05,"color":"#5a7e46"},
{"offset":0.05,"color":"#c2db4b"},{"offset":0.0555,"color":"#c2db4b"},{"offset":0.0555,"color":"#5a7e46"},{"offset":0.075,"color":"#5a7e46"},
{"offset":0.075,"color":"#c2db4b"},{"offset":0.0805,"color":"#c2db4b"},{"offset":0.0805,"color":"#5a7e46"},{"offset":0.1,"color":"#5a7e46"},
{"offset":0.1,"color":"#c2db4b"},{"offset":0.1055,"color":"#c2db4b"},{"offset":0.1055,"color":"#5a7e46"},{"offset":0.125,"color":"#5a7e46"},
{"offset":0.125,"color":"#c2db4b"},{"offset":0.1305,"color":"#c2db4b"},{"offset":0.1305,"color":"#5a7e46"},{"offset":0.15,"color":"#5a7e46"},
{"offset":0.15,"color":"#c2db4b"},{"offset":0.1555,"color":"#c2db4b"},{"offset":0.1555,"color":"#5a7e46"},{"offset":0.175,"color":"#5a7e46"},
{"offset":0.175,"color":"#c2db4b"},{"offset":0.1805,"color":"#c2db4b"},{"offset":0.1805,"color":"#5a7e46"},{"offset":0.2,"color":"#5a7e46"},
{"offset":0.2,"color":"#c2db4b"},{"offset":0.2055,"color":"#c2db4b"},{"offset":0.2055,"color":"#5a7e46"},{"offset":0.225,"color":"#5a7e46"},
{"offset":0.225,"color":"#c2db4b"},{"offset":0.2305,"color":"#c2db4b"},{"offset":0.2305,"color":"#5a7e46"},{"offset":0.25,"color":"#5a7e46"},
{"offset":0.25,"color":"#c2db4b"},{"offset":0.2555,"color":"#c2db4b"},{"offset":0.2555,"color":"#5a7e46"},{"offset":0.275,"color":"#5a7e46"},
{"offset":0.275,"color":"#c2db4b"},{"offset":0.2805,"color":"#c2db4b"},{"offset":0.2805,"color":"#5a7e46"},{"offset":0.3,"color":"#5a7e46"},
{"offset":0.3,"color":"#c2db4b"},{"offset":0.3055,"color":"#c2db4b"},{"offset":0.3055,"color":"#5a7e46"},{"offset":0.325,"color":"#5a7e46"},
{"offset":0.325,"color":"#c2db4b"},{"offset":0.3305,"color":"#c2db4b"},{"offset":0.3305,"color":"#5a7e46"},{"offset":0.35,"color":"#5a7e46"},
{"offset":0.35,"color":"#c2db4b"},{"offset":0.3555,"color":"#c2db4b"},{"offset":0.3555,"color":"#5a7e46"},{"offset":0.375,"color":"#5a7e46"},
{"offset":0.375,"color":"#c2db4b"},{"offset":0.3805,"color":"#c2db4b"},{"offset":0.3805,"color":"#5a7e46"},{"offset":0.4,"color":"#5a7e46"},
{"offset":0.4,"color":"#c2db4b"},{"offset":0.4055,"color":"#c2db4b"},{"offset":0.4055,"color":"#5a7e46"},{"offset":0.425,"color":"#5a7e46"},
{"offset":0.425,"color":"#c2db4b"},{"offset":0.4305,"color":"#c2db4b"},{"offset":0.4305,"color":"#5a7e46"},{"offset":0.45,"color":"#5a7e46"},
{"offset":0.45,"color":"#c2db4b"},{"offset":0.4555,"color":"#c2db4b"},{"offset":0.4555,"color":"#5a7e46"},{"offset":0.475,"color":"#5a7e46"},
{"offset":0.475,"color":"#c2db4b"},{"offset":0.4805,"color":"#c2db4b"},{"offset":0.4805,"color":"#5a7e46"},{"offset":0.5,"color":"#5a7e46"},
{"offset":0.5,"color":"#c2db4b"},{"offset":0.5055,"color":"#c2db4b"},{"offset":0.5055,"color":"#5a7e46"},{"offset":0.525,"color":"#5a7e46"},
{"offset":0.525,"color":"#c2db4b"},{"offset":0.5305,"color":"#c2db4b"},{"offset":0.5305,"color":"#5a7e46"},{"offset":0.55,"color":"#5a7e46"},
{"offset":0.55,"color":"#c2db4b"},{"offset":0.5555,"color":"#c2db4b"},{"offset":0.5555,"color":"#5a7e46"},{"offset":0.575,"color":"#5a7e46"},
{"offset":0.575,"color":"#c2db4b"},{"offset":0.5805,"color":"#c2db4b"},{"offset":0.5805,"color":"#5a7e46"},{"offset":0.6,"color":"#5a7e46"},
{"offset":0.6,"color":"#c2db4b"},{"offset":0.6055,"color":"#c2db4b"},{"offset":0.6055,"color":"#5a7e46"},{"offset":0.625,"color":"#5a7e46"},
{"offset":0.625,"color":"#c2db4b"},{"offset":0.6305,"color":"#c2db4b"},{"offset":0.6305,"color":"#5a7e46"},{"offset":0.65,"color":"#5a7e46"},
{"offset":0.65,"color":"#c2db4b"},{"offset":0.6555,"color":"#c2db4b"},{"offset":0.6555,"color":"#5a7e46"},{"offset":0.675,"color":"#5a7e46"},
{"offset":0.675,"color":"#c2db4b"},{"offset":0.6805,"color":"#c2db4b"},{"offset":0.6805,"color":"#5a7e46"},{"offset":0.7,"color":"#5a7e46"},
{"offset":0.7,"color":"#c2db4b"},{"offset":0.7055,"color":"#c2db4b"},{"offset":0.7055,"color":"#5a7e46"},{"offset":0.725,"color":"#5a7e46"},
{"offset":0.725,"color":"#c2db4b"},{"offset":0.7305,"color":"#c2db4b"},{"offset":0.7305,"color":"#5a7e46"},{"offset":0.75,"color":"#5a7e46"},
{"offset":0.75,"color":"#c2db4b"},{"offset":0.7555,"color":"#c2db4b"},{"offset":0.7555,"color":"#5a7e46"},{"offset":0.775,"color":"#5a7e46"},
{"offset":0.775,"color":"#c2db4b"},{"offset":0.7805,"color":"#c2db4b"},{"offset":0.7805,"color":"#5a7e46"},{"offset":0.8,"color":"#5a7e46"},
{"offset":0.8,"color":"#c2db4b"},{"offset":0.8055,"color":"#c2db4b"},{"offset":0.8055,"color":"#5a7e46"},{"offset":0.825,"color":"#5a7e46"},
{"offset":0.825,"color":"#c2db4b"},{"offset":0.8305,"color":"#c2db4b"},{"offset":0.8305,"color":"#5a7e46"},{"offset":0.85,"color":"#5a7e46"},
{"offset":0.85,"color":"#c2db4b"},{"offset":0.8555,"color":"#c2db4b"},{"offset":0.8555,"color":"#5a7e46"},{"offset":0.875,"color":"#5a7e46"},
{"offset":0.875,"color":"#c2db4b"},{"offset":0.8805,"color":"#c2db4b"},{"offset":0.8805,"color":"#5a7e46"},{"offset":0.9,"color":"#5a7e46"},
{"offset":0.9,"color":"#c2db4b"},{"offset":0.9055,"color":"#c2db4b"},{"offset":0.9055,"color":"#5a7e46"},{"offset":0.925,"color":"#5a7e46"},
{"offset":0.925,"color":"#c2db4b"},{"offset":0.9305,"color":"#c2db4b"},{"offset":0.9305,"color":"#5a7e46"},{"offset":0.95,"color":"#5a7e46"},
{"offset":0.95,"color":"#c2db4b"},{"offset":0.9555,"color":"#c2db4b"},{"offset":0.9555,"color":"#5a7e46"},{"offset":0.975,"color":"#5a7e46"},
{"offset":0.975,"color":"#c2db4b"},{"offset":0.9805,"color":"#c2db4b"},{"offset":0.9805,"color":"#5a7e46"},{"offset":1,"color":"#5a7e46"}
]}},
  "encoding":{"x":{"field":"t","type":"quantitative"},"y":{"field":"v","type":"quantitative"},"y2":{"datum":0}}},
 {"data":{"values":[{"t":7,"lab":"1002"},{"t":23.4,"lab":"A01"},{"t":39,"lab":"Mss"},{"t":54.5,"lab":"1108"},{"t":70.1,"lab":"Max"},{"t":85.7,"lab":"1co"},{"t":98.6,"lab":"To"}]},"mark":{"type":"text","align":"center","baseline":"middle","font":"Liberation Sans","fontSize":9,"fill":"#c8ccc8"},"encoding":{"text":{"field":"lab"},"x":{"field":"t","type":"quantitative"},"y":{"datum":-10.75}}}
]},
{"data":{"values":[{"panel":"7-l our Deshbation"}]},"layer":[
 {"mark":{"type":"rect","cornerRadius":9,"fill":{"gradient":"linear","x1":0,"y1":0,"x2":0,"y2":1,"stops":[{"offset":0,"color":"#858a87"},{"offset":1,"color":"#6c716e"}]}},"encoding":{"x":{"datum":0,"type":"quantitative","scale":{"domain":[0,284],"range":[140,424],"nice":false,"zero":false}},"x2":{"datum":284},"y":{"datum":0,"type":"quantitative","scale":{"domain":[0,180],"range":[580,760],"nice":false,"zero":false}},"y2":{"datum":180}}},
 {"mark":{"type":"text","align":"left","baseline":"middle","font":"Roboto","fontWeight":500,"fontSize":13.5,"fill":"#f3f5f3"},"encoding":{"text":{"field":"panel"},"x":{"datum":12},"y":{"datum":18}}},
 {"mark":{"type":"text","text":"Cocer X","align":"right","baseline":"middle","font":"Liberation Sans","fontSize":9,"fill":"#c6cac7"},"encoding":{"x":{"datum":265},"y":{"datum":47}}}
]},
{"layer":[
 {"data":{"values":[{"g":0,"lab":"15"},{"g":17.7,"lab":"10"},{"g":37.5,"lab":"40"},{"g":58.3,"lab":"200"},{"g":79.2,"lab":"100"},{"g":100,"lab":"130"}]},"layer":[
  {"mark":{"type":"rule","stroke":"#a9ada9","strokeWidth":0.8},"encoding":{"x":{"datum":0,"type":"quantitative","scale":{"domain":[0,17],"range":[175,404],"nice":false,"zero":false}},"x2":{"datum":17},"y":{"field":"g","type":"quantitative","scale":{"domain":[0,100],"range":[729,633],"nice":false,"zero":false}}}},
  {"mark":{"type":"text","align":"center","baseline":"middle","font":"Liberation Sans","fontSize":9,"fill":"#c8ccc8"},"encoding":{"text":{"field":"lab"},"x":{"datum":-0.9},"y":{"field":"g","type":"quantitative"}}}
 ]},
 {"data":{"values":[{"s":0},{"s":1},{"s":2},{"s":3},{"s":4},{"s":5},{"s":6},{"s":7},{"s":8},{"s":9},{"s":10},{"s":11},{"s":12},{"s":13},{"s":14},{"s":15},{"s":16},{"s":17}]},"mark":{"type":"rule","stroke":"#a9ada9","strokeWidth":0.8},"encoding":{"x":{"field":"s","type":"quantitative"},"y":{"datum":0},"y2":{"datum":100}}},
 {"data":{"values":[{"s":0.5,"v":87.2},{"s":2.48,"v":95.1},{"s":3.53,"v":79.2},{"s":4.36,"v":58.3},{"s":5.62,"v":67.4},{"s":7.18,"v":92.4},{"s":9.9,"v":91.7},{"s":11.1,"v":72.2},{"s":12.95,"v":72.2},{"s":13.7,"v":95.8},{"s":14.35,"v":55},{"s":15.7,"v":84.7},{"s":16.4,"v":28.1}]},"mark":{"type":"bar","width":8.5,"fill":"#606e64","stroke":"#e2e6e2","strokeWidth":1.2},"encoding":{"x":{"field":"s","type":"quantitative"},"y":{"field":"v","type":"quantitative"},"y2":{"datum":0}}},
 {"data":{"values":[{"s":0.5,"v":86},{"s":0.5,"v":37},{"s":1.78,"v":6.6},{"s":3.19,"v":4.2},{"s":3.53,"v":78.5},{"s":4.48,"v":14.3},{"s":10.5,"v":38.5},{"s":12.3,"v":5.6},{"s":12.95,"v":71.5},{"s":14.35,"v":54},{"s":15.7,"v":84},{"s":16.4,"v":27.5}]},"mark":{"type":"tick","orient":"horizontal","size":9,"thickness":3,"color":"#eae43c","opacity":1},"encoding":{"x":{"field":"s","type":"quantitative"},"y":{"field":"v","type":"quantitative"}}},
 {"data":{"values":[{"s":3.49,"v":79.2},{"s":4.6,"v":54.2},{"s":5.59,"v":67.4},{"s":6.46,"v":47.2},{"s":7.33,"v":33.3},{"s":8.07,"v":57.6},{"s":8.69,"v":73.2}]},"mark":{"type":"line","interpolate":"monotone","stroke":"#e2e040","strokeWidth":1.5},"encoding":{"x":{"field":"s","type":"quantitative"},"y":{"field":"v","type":"quantitative"}}},
 {"data":{"values":[{"s":0.67,"lab":"036"},{"s":2.38,"lab":"1065"},{"s":4.97,"lab":"1061"},{"s":6.98,"lab":"296"},{"s":9.28,"lab":"1900"},{"s":11.5,"lab":"235"},{"s":13.5,"lab":"1260"},{"s":16.3,"lab":"2000"}]},"mark":{"type":"text","align":"center","baseline":"middle","font":"Liberation Sans","fontSize":9,"fill":"#c8ccc8"},"encoding":{"text":{"field":"lab"},"x":{"field":"s","type":"quantitative"},"y":{"datum":-7.5}}}
]},
{"data":{"values":[{"panel":"Apot Fanninity"}]},"layer":[
 {"mark":{"type":"rect","cornerRadius":9,"fill":{"gradient":"linear","x1":0,"y1":0,"x2":0,"y2":1,"stops":[{"offset":0,"color":"#858a87"},{"offset":1,"color":"#6c716e"}]}},"encoding":{"x":{"datum":0,"type":"quantitative","scale":{"domain":[0,265],"range":[440,705],"nice":false,"zero":false}},"x2":{"datum":265},"y":{"datum":0,"type":"quantitative","scale":{"domain":[0,180],"range":[580,760],"nice":false,"zero":false}},"y2":{"datum":180}}},
 {"mark":{"type":"text","align":"left","baseline":"middle","font":"Roboto","fontWeight":500,"fontSize":13.5,"fill":"#f3f5f3"},"encoding":{"text":{"field":"panel"},"x":{"datum":14},"y":{"datum":18}}},
 {"mark":{"type":"text","text":"Ga","align":"center","baseline":"middle","font":"Liberation Sans","fontSize":9,"fill":"#c6cac7"},"encoding":{"x":{"datum":225},"y":{"datum":47}}}
]},
{"layer":[
 {"mark":{"type":"rect","fillOpacity":0,"stroke":"#b7bbb8","strokeWidth":1},"data":{"values":[{"box":"plot"}]},"encoding":{"x":{"datum":0,"type":"quantitative","scale":{"domain":[0,100],"range":[472,670.3],"nice":false,"zero":false}},"x2":{"datum":100},"y":{"datum":0,"type":"quantitative","scale":{"domain":[0,100],"range":[725.3,630.3],"nice":false,"zero":false}},"y2":{"datum":98}}},
 {"data":{"values":[{"t":0,"v":94.7},{"t":5.9,"v":100},{"t":14.3,"v":94},{"t":23.6,"v":100},{"t":28.6,"v":98.2},{"t":35.3,"v":101},{"t":44.5,"v":87.7},{"t":49.6,"v":89.5},{"t":55.5,"v":89.5},{"t":61.4,"v":95.4},{"t":66.4,"v":92.9},{"t":73.1,"v":84.2},{"t":78.2,"v":79.6},{"t":88.2,"v":63.8},{"t":100,"v":63.8}]},"layer":[
  {"mark":{"type":"area","fill":{"gradient":"linear","x1":0,"y1":0,"x2":0,"y2":1,"stops":[{"offset":0,"color":"#c6c43c"},{"offset":1,"color":"#5f7458"}]}},"encoding":{"x":{"field":"t","type":"quantitative"},"y":{"field":"v","type":"quantitative"},"y2":{"datum":0}}},
  {"mark":{"type":"line","stroke":"#d9d845","strokeWidth":1.2},"encoding":{"x":{"field":"t","type":"quantitative"},"y":{"field":"v","type":"quantitative"}}}
 ]},
 {"data":{"values":[{"g":0,"lab":"0"},{"g":32.6,"lab":"10"},{"g":65.4,"lab":"25"},{"g":100,"lab":"30"}]},"mark":{"type":"text","align":"center","baseline":"middle","font":"Liberation Sans","fontSize":9.5,"fill":"#c8ccc8"},"encoding":{"text":{"field":"lab"},"x":{"datum":-5},"y":{"field":"g","type":"quantitative"}}},
 {"data":{"values":[{"g":0,"lab":"0"},{"g":32.6,"lab":"20"},{"g":65.4,"lab":"110"},{"g":100,"lab":"80"}]},"layer":[
  {"mark":{"type":"text","align":"left","baseline":"middle","font":"Liberation Sans","fontSize":9.5,"fill":"#c8ccc8"},"encoding":{"text":{"field":"lab"},"x":{"datum":103.4},"y":{"field":"g","type":"quantitative"}}},
  {"mark":{"type":"rule","stroke":"#b7bbb8","strokeWidth":1},"encoding":{"x":{"datum":100},"x2":{"datum":102.6},"y":{"field":"g","type":"quantitative"}}}
 ]},
 {"data":{"values":[{"t":5.9,"lab":"1056"},{"t":23.6,"lab":"Mm"},{"t":42.9,"lab":"Tvo"},{"t":61.4,"lab":"Wes"},{"t":79.8,"lab":"Mo"},{"t":98.3,"lab":"Ste"}]},"mark":{"type":"text","align":"center","baseline":"middle","font":"Liberation Sans","fontSize":9,"fill":"#c8ccc8"},"encoding":{"text":{"field":"lab"},"x":{"field":"t","type":"quantitative"},"y":{"datum":-10.2}}}
]},
{"data":{"values":[{"panel":"Appli Conpitiors"}]},"layer":[
 {"mark":{"type":"rect","cornerRadius":9,"fill":{"gradient":"linear","x1":0,"y1":0,"x2":0,"y2":1,"stops":[{"offset":0,"color":"#858a87"},{"offset":1,"color":"#6c716e"}]}},"encoding":{"x":{"datum":0,"type":"quantitative","scale":{"domain":[0,265],"range":[721,986],"nice":false,"zero":false}},"x2":{"datum":265},"y":{"datum":0,"type":"quantitative","scale":{"domain":[0,180],"range":[580,760],"nice":false,"zero":false}},"y2":{"datum":180}}},
 {"mark":{"type":"text","align":"left","baseline":"middle","font":"Roboto","fontWeight":500,"fontSize":13.5,"fill":"#f3f5f3"},"encoding":{"text":{"field":"panel"},"x":{"datum":14},"y":{"datum":18}}},
 {"mark":{"type":"text","text":"Rtao X","align":"right","baseline":"middle","font":"Liberation Sans","fontSize":9,"fill":"#c6cac7"},"encoding":{"x":{"datum":249},"y":{"datum":47}}}
]},
{"layer":[
 {"data":{"values":[{"g":46.8,"lab":"70"},{"g":100,"lab":"10"}]},"mark":{"type":"rule","stroke":"#a6aaa7","strokeWidth":1},"encoding":{"x":{"datum":0,"type":"quantitative","scale":{"domain":[0,100],"range":[751,968],"nice":false,"zero":false}},"x2":{"datum":100},"y":{"field":"g","type":"quantitative","scale":{"domain":[0,100],"range":[726.3,653],"nice":false,"zero":false}}}},
 {"data":{"values":[{"g":0}]},"mark":{"type":"rule","stroke":"#c5c9c6","strokeWidth":1},"encoding":{"x":{"datum":0},"x2":{"datum":100},"y":{"field":"g","type":"quantitative"}}},
 {"data":{"values":[{"g":0,"lab":"0"},{"g":46.8,"lab":"70"},{"g":100,"lab":"10"}]},"mark":{"type":"text","align":"center","baseline":"middle","font":"Liberation Sans","fontSize":9,"fill":"#c8ccc8"},"encoding":{"text":{"field":"lab"},"x":{"datum":-3.3},"y":{"field":"g","type":"quantitative"}}},
 {"data":{"values":[{"t":0.92,"v":55.9},{"t":2.44,"v":67.3},{"t":6.31,"v":69.6},{"t":12.44,"v":72.7},{"t":15.53,"v":69.6},{"t":19.35,"v":71.8},{"t":21.66,"v":76.4},{"t":26.27,"v":79.9},{"t":29.35,"v":80.9},{"t":31.66,"v":81.9},{"t":33.18,"v":94.5},{"t":34.7,"v":100},{"t":36.27,"v":96.9},{"t":37.79,"v":85.4},{"t":39.31,"v":74.1},{"t":40.88,"v":78.6},{"t":42.4,"v":71.8},{"t":44.7,"v":74.1},{"t":46.22,"v":69.6},{"t":47.79,"v":75.4},{"t":50.09,"v":71.8},{"t":52.4,"v":67.3},{"t":53.92,"v":58.1},{"t":55.16,"v":46.8},{"t":56.22,"v":80.9},{"t":57.28,"v":58.1},{"t":58.2,"v":40},{"t":59.31,"v":33.2},{"t":60.05,"v":58.1},{"t":60.83,"v":71.8},{"t":61.61,"v":94.5},{"t":62.35,"v":115},{"t":63.46,"v":108.2},{"t":64.38,"v":94.5},{"t":65.44,"v":87.7},{"t":66.96,"v":83.2},{"t":68.53,"v":85.4},{"t":69.26,"v":62.8},{"t":70.05,"v":69.6},{"t":71.57,"v":74.1},{"t":72.35,"v":62.8},{"t":73.59,"v":69.6},{"t":75.44,"v":58.1},{"t":76.96,"v":46.8},{"t":78.48,"v":58.1},{"t":80.05,"v":51.3},{"t":81.57,"v":60.4},{"t":82.35,"v":71.8},{"t":83.41,"v":46.8},{"t":84.65,"v":58.1},{"t":85.85,"v":44.5},{"t":86.96,"v":55.9},{"t":88.48,"v":49.1},{"t":90,"v":58.1},{"t":91.57,"v":46.8},{"t":93.09,"v":62.8},{"t":93.87,"v":74.1},{"t":95.07,"v":67.3},{"t":96.18,"v":71.8},{"t":97.24,"v":62.8},{"t":98.48,"v":71.8},{"t":99.22,"v":58.1}]},"mark":{"type":"line","stroke":"#e3d93a","strokeWidth":1.3},"encoding":{"x":{"field":"t","type":"quantitative"},"y":{"field":"v","type":"quantitative"}}},
 {"data":{"values":[{"t":0,"lab":"0081"},{"t":12.4,"lab":"74"},{"t":25.3,"lab":"Jao"},{"t":38.7,"lab":"Pan"},{"t":54.8,"lab":"Adt"},{"t":68.7,"lab":"Sat"},{"t":82.5,"lab":"100"},{"t":96.3,"lab":"200"}]},"mark":{"type":"text","align":"center","baseline":"middle","font":"Liberation Sans","fontSize":9,"fill":"#c8ccc8"},"encoding":{"text":{"field":"lab"},"x":{"field":"t","type":"quantitative"},"y":{"datum":-13.6}}}
]},
{"data":{"values":[{"panel":"AlLoor Cahintey"}]},"layer":[
 {"mark":{"type":"rect","cornerRadius":9,"fill":{"gradient":"linear","x1":0,"y1":0,"x2":0,"y2":1,"stops":[{"offset":0,"color":"#858a87"},{"offset":1,"color":"#6c716e"}]}},"encoding":{"x":{"datum":0,"type":"quantitative","scale":{"domain":[0,274],"range":[1002,1276],"nice":false,"zero":false}},"x2":{"datum":274},"y":{"datum":0,"type":"quantitative","scale":{"domain":[0,180],"range":[580,760],"nice":false,"zero":false}},"y2":{"datum":180}}},
 {"mark":{"type":"text","align":"left","baseline":"middle","font":"Roboto","fontWeight":500,"fontSize":13.5,"fill":"#f3f5f3"},"encoding":{"text":{"field":"panel"},"x":{"datum":14},"y":{"datum":18}}},
 {"mark":{"type":"text","text":"Glosr X","align":"right","baseline":"middle","font":"Liberation Sans","fontSize":9,"fill":"#c6cac7"},"encoding":{"x":{"datum":256},"y":{"datum":47}}}
]},
{"layer":[
 {"data":{"values":[{"g":0},{"g":34.3},{"g":55.6},{"g":76.9},{"g":100}]},"mark":{"type":"rule","stroke":"#a6aaa7","strokeWidth":1},"encoding":{"x":{"datum":0,"type":"quantitative","scale":{"domain":[0,100],"range":[1020,1257],"nice":false,"zero":false}},"x2":{"datum":100},"y":{"field":"g","type":"quantitative","scale":{"domain":[0,100],"range":[725.3,631.3],"nice":false,"zero":false}}}},
 {"data":{"values":[{"t":0.97,"v":78},{"t":8.73,"v":79},{"t":15.06,"v":51.4},{"t":22.07,"v":56.7},{"t":23.21,"v":93.9},{"t":33.33,"v":96.4},{"t":34.05,"v":21.3},{"t":43.16,"v":37.2},{"t":51.6,"v":23.7},{"t":53.04,"v":76.2},{"t":67.8,"v":78},{"t":71.31,"v":44.3},{"t":76.92,"v":37.2},{"t":79.03,"v":51.4},{"t":81.14,"v":53.2},{"t":82.57,"v":64.9},{"t":86.08,"v":61.3},{"t":93.8,"v":91.1},{"t":99.45,"v":81.5}]},"layer":[
  {"mark":{"type":"area","fill":{"gradient":"linear","x1":0,"y1":0,"x2":0,"y2":1,"stops":[{"offset":0,"color":"#cac83b"},{"offset":1,"color":"#5f7458"}]}},"encoding":{"x":{"field":"t","type":"quantitative"},"y":{"field":"v","type":"quantitative"},"y2":{"datum":0}}},
  {"mark":{"type":"line","stroke":"#dcdb3e","strokeWidth":1.4},"encoding":{"x":{"field":"t","type":"quantitative"},"y":{"field":"v","type":"quantitative"}}}
 ]},
 {"data":{"values":[{"t":4.5,"lab":"Soon"},{"t":21.4,"lab":"Mie"},{"t":36.2,"lab":"Mie"},{"t":50.9,"lab":"Mer"},{"t":65,"lab":"Sat"},{"t":79.7,"lab":"Mn"},{"t":95.2,"lab":"Mo"}]},"mark":{"type":"text","align":"center","baseline":"middle","font":"Liberation Sans","fontSize":9.5,"fill":"#c8ccc8"},"encoding":{"text":{"field":"lab"},"x":{"field":"t","type":"quantitative"},"y":{"datum":-11.4}}}
]},
{"data":{"values":[{"ring":"corner"}]},"layer":[
 {"mark":{"type":"arc","radius":354,"radius2":208,"theta":0,"theta2":6.2832,"fill":"#3cb46e","opacity":0.3},"encoding":{"x":{"datum":-0.0321,"type":"quantitative","scale":{"domain":[0,1],"range":[0,1400],"nice":false,"zero":false}},"y":{"datum":0,"type":"quantitative","scale":{"domain":[0,1],"range":[0,900],"nice":false,"zero":false}}}},
 {"mark":{"type":"arc","radius":388,"radius2":255,"theta":0,"theta2":6.2832,"fill":"#3cb46e","opacity":0.3},"encoding":{"x":{"datum":1.0714},"y":{"datum":1.0556}}}
]}
]
}
